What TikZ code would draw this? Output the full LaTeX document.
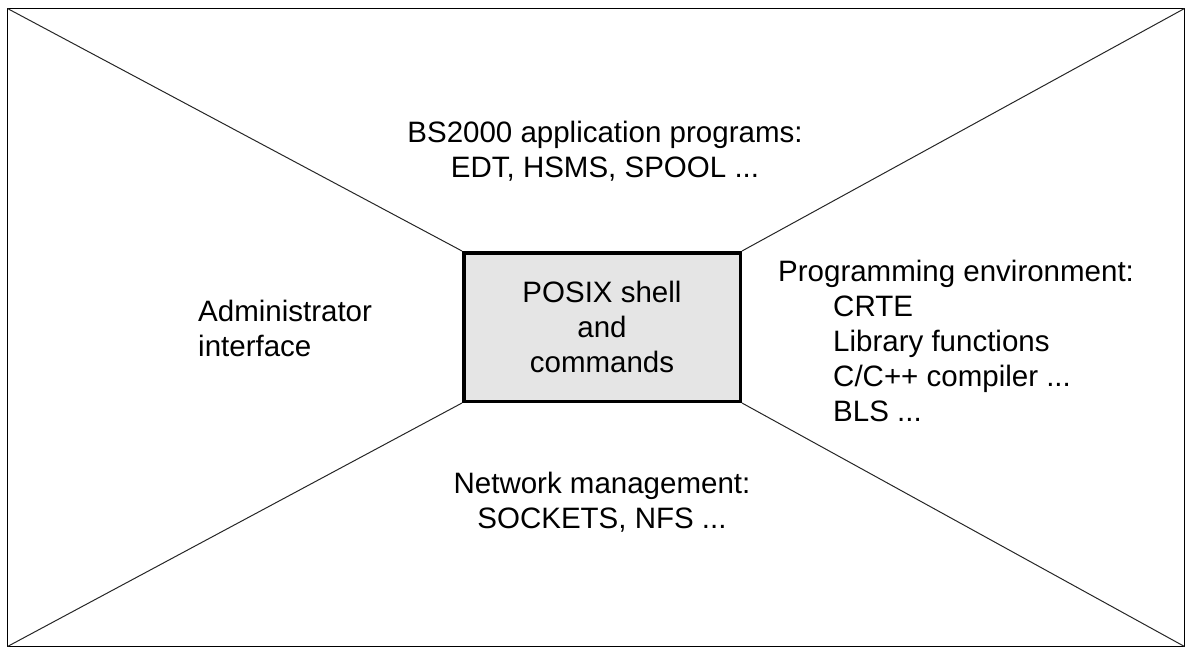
\documentclass[tikz,border=0pt]{standalone}
\usepackage{fontspec}
\setmainfont{Liberation Sans}
\begin{document}
\begin{tikzpicture}[x=1pt,y=-1pt,
  every node/.style={font=\fontsize{29.5}{35}\selectfont, inner sep=0pt, text=black},
  frame/.style={draw=black, line width=1.5pt},
  ray/.style={draw=black!85, line width=1pt},
  core/.style={draw=black, line width=3.5pt, fill=black!10, minimum width=276.5pt, minimum height=148.5pt, align=center},
  label/.style={align=center}]
\useasboundingbox (0,0) rectangle (1185,648);
\coordinate (tl) at (7.5,8.5);
\coordinate (tr) at (1184.5,8.5);
\coordinate (bl) at (7.5,646.5);
\coordinate (br) at (1184.5,646.5);
\draw[frame] (tl) rectangle (br);
\node[core] (box) at (602,327) {POSIX shell\\and\\commands};
\draw[ray] (tl) -- (box.north west);
\draw[ray] (tr) -- (box.north east);
\draw[ray] (bl) -- (box.south west);
\draw[ray] (br) -- (box.south east);
\node[label] (apps) at (605,151) {BS2000 application programs:\\EDT, HSMS, SPOOL ...};
\node[align=left, anchor=west] (admin) at (198,328.4) {Administrator\\interface};
\node[align=left, anchor=west] (prog) at (778,341.4) {Programming environment:\\\hspace*{55pt}CRTE\\\hspace*{55pt}Library functions\\\hspace*{55pt}C/C++ compiler ...\\\hspace*{55pt}BLS ...};
\node[label] (net) at (602,502) {Network management:\\SOCKETS, NFS ...};
\end{tikzpicture}
\end{document}
